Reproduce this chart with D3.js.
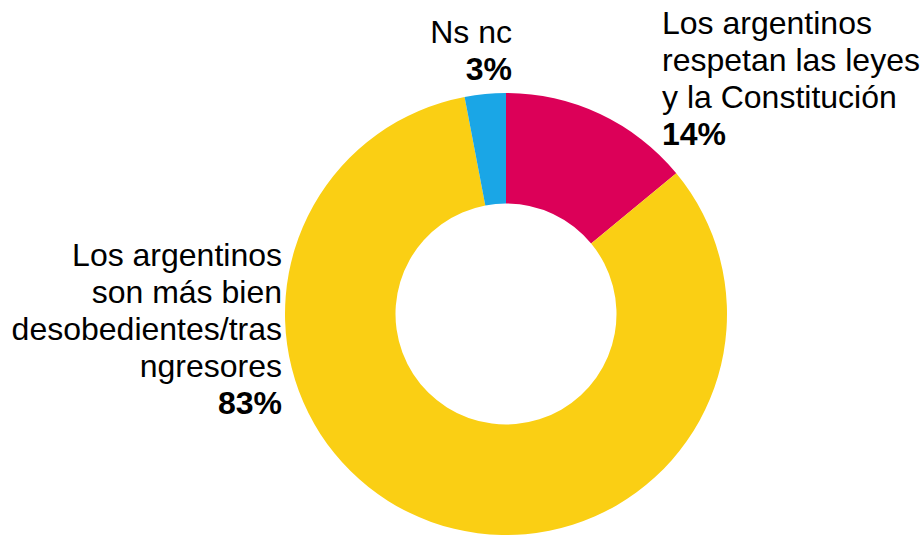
<!DOCTYPE html>
<html>
<head>
<meta charset="utf-8">
<script src="https://cdn.jsdelivr.net/npm/d3@7"></script>
<style>
  html, body { margin: 0; padding: 0; background: #fff; }
  svg { display: block; }
  text { font-family: "Liberation Sans", Arial, sans-serif; fill: #000; }
</style>
</head>
<body>
<div id="chart"></div>
<script>
const categories = ['respetan', 'desobedientes', 'nsnc'];
const shares = [14, 83, 3];
const sliceColors = ['#DC0058', '#FACF14', '#1AA6E6'];
const labelLines = [
    ['Los argentinos', 'respetan las leyes', 'y la Constitución'],
    ['Los argentinos', 'son más bien', 'desobedientes/tras', 'ngresores'],
    ['Ns nc']
];
const pctLabels = ['14%', '83%', '3%'];

const W = 922, H = 535;
const cx = 506, cy = 314;
const outerR = 221, innerR = 110.5;
const fontPx = 32, lineH = 37;

// label anchors (left/right edge of block + first baseline)
const labelPos = [
    { x: 662, y: 34, anchor: 'start' },
    { x: 282, y: 266, anchor: 'end' },
    { x: 512, y: 43, anchor: 'end' }
];

const svg = d3.select('#chart').append('svg')
    .attr('width', W)
    .attr('height', H);

const pie = d3.pie().sort(null).value((d) => d.value);
const arc = d3.arc().innerRadius(innerR).outerRadius(outerR);

const data = categories.map((c, i) => ({ key: c, value: shares[i], color: sliceColors[i] }));

svg.append('g')
    .attr('transform', `translate(${cx},${cy})`)
    .selectAll('path')
    .data(pie(data))
    .join('path')
    .attr('d', arc)
    .attr('fill', (d) => d.data.color);

labelPos.forEach((p, i) => {
    const t = svg.append('text')
        .attr('x', p.x)
        .attr('y', p.y)
        .attr('text-anchor', p.anchor)
        .style('font-size', fontPx + 'px');
    labelLines[i].forEach((line, j) => {
        t.append('tspan')
            .attr('x', p.x)
            .attr('dy', j === 0 ? 0 : lineH)
            .text(line);
    });
    t.append('tspan')
        .attr('x', p.x)
        .attr('dy', lineH)
        .style('font-weight', 'bold')
        .text(pctLabels[i]);
});
</script>
</body>
</html>
